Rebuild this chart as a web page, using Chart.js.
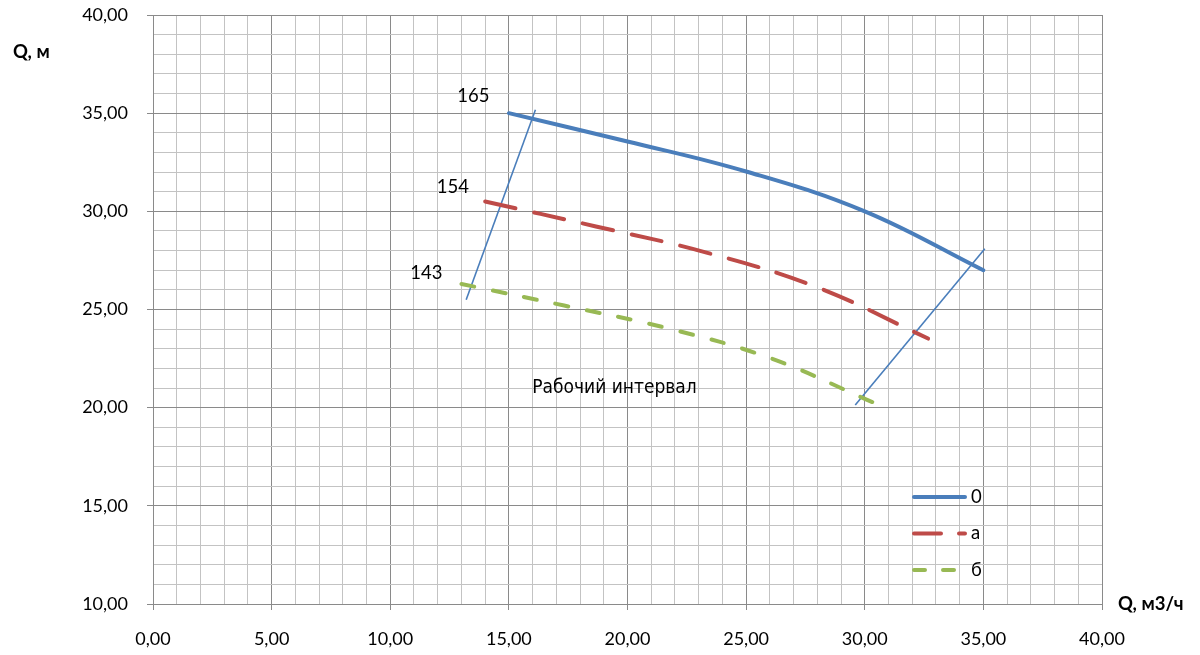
<!DOCTYPE html>
<html><head><meta charset="utf-8">
<script src="https://cdn.jsdelivr.net/npm/chart.js@4/dist/chart.umd.min.js"></script>
<style>html,body{margin:0;padding:0;background:#fff;}#wrap{position:relative;width:1200px;height:655px;}</style>
</head><body><div id="wrap"><canvas id="c" width="1200" height="655"></canvas></div>
<script>
// ---- data ----
const seriesNames = ['0', 'а', 'б'];
const curve0X = [15, 20, 25, 30, 35];
const curve0Y = [35, 33.56, 32.03, 30, 27];
const curveAX = [14, 18.67, 23.33, 28, 32.67];
const curveAY = [30.5, 29.23, 27.9, 26.13, 23.52];
const curveBX = [13, 17.33, 21.67, 26, 30.33];
const curveBY = [26.3, 25.2, 24.05, 22.53, 20.28];
const leftBoundX = [13.2, 16.12];
const leftBoundY = [25.5, 35.17];
const rightBoundX = [29.6, 35.06];
const rightBoundY = [20.14, 28.09];
const speedLabels = ['165', '154', '143'];
const speedLabelX = [13.5, 12.64, 11.52];
const speedLabelY = [35.88, 31.26, 26.88];
const zoneLabel = 'Рабочий интервал';
const zoneLabelX = 19.45;
const zoneLabelY = 20.99;
const xTitle = 'Q, м3/ч';
const yTitle = 'Q, м';
const xMin = 0, xMax = 40, yMin = 10, yMax = 40;

function pts(xs, ys) { return xs.map((x, i) => ({x: x, y: ys[i]})); }
function fmt(v) { return v.toFixed(2).replace('.', ','); }

const FONT = 'Lato, "Open Sans", sans-serif';
const BLUE = '#4a7ebb', RED = '#be4b48', GREEN = '#98b954';
const MAJOR = '#8a8a8a', MINOR = '#c3c3c3';

const extras = {
  id: 'extras',
  afterDraw(chart) {
    const ctx = chart.ctx, xs = chart.scales.x, ys = chart.scales.y, ca = chart.chartArea;
    ctx.save();
    ctx.fillStyle = '#000';
    ctx.textAlign = 'center';
    ctx.textBaseline = 'middle';
    ctx.font = '18.5px ' + FONT;
    speedLabels.forEach((t, i) => ctx.fillText(t, xs.getPixelForValue(speedLabelX[i]), ys.getPixelForValue(speedLabelY[i])));
    ctx.font = '19px "DejaVu Sans Condensed", "DejaVu Sans", sans-serif';
    ctx.fillText(zoneLabel, xs.getPixelForValue(zoneLabelX), ys.getPixelForValue(zoneLabelY));
    // axis titles
    ctx.font = 'bold 18.5px ' + FONT;
    ctx.textAlign = 'left';
    ctx.fillText(yTitle, 13, 52);
    ctx.fillText(xTitle, ca.right + 16, ca.bottom);
    // legend
    const items = [
      {c: BLUE, d: []},
      {c: RED, d: [27, 18]},
      {c: GREEN, d: [11, 18]}
    ];
    const lx = ca.right - 190, ly0 = ca.bottom - 107, step = 36.5;
    items.forEach((it, i) => {
      const y = ly0 + i * step;
      ctx.beginPath();
      ctx.strokeStyle = it.c;
      ctx.lineWidth = 4;
      ctx.lineCap = 'round';
      ctx.setLineDash(it.d);
      ctx.moveTo(lx + 2, y);
      ctx.lineTo(lx + 53, y);
      ctx.stroke();
      ctx.setLineDash([]);
      ctx.fillStyle = '#000';
      ctx.font = '18.5px ' + FONT;
      ctx.textAlign = 'left';
      ctx.fillText(seriesNames[i], lx + 59, y);
    });
    ctx.restore();
  }
};

function gridOpts() {
  return {
    color: c => (Math.round(c.tick.value) % 5 === 0 ? MAJOR : MINOR),
    tickColor: c => (Math.round(c.tick.value) % 5 === 0 ? MAJOR : 'rgba(0,0,0,0)'),
    lineWidth: 1,
    tickLength: 6,
    drawTicks: true
  };
}

new Chart(document.getElementById('c'), {
  type: 'scatter',
  data: {
    datasets: [
      {label: seriesNames[0], data: pts(curve0X, curve0Y), showLine: true, borderColor: BLUE, borderWidth: 4, tension: 0.4, pointRadius: 0, borderCapStyle: 'round'},
      {label: seriesNames[1], data: pts(curveAX, curveAY), showLine: true, borderColor: RED, borderWidth: 4, tension: 0.4, pointRadius: 0, borderDash: [31, 19], borderCapStyle: 'round'},
      {label: seriesNames[2], data: pts(curveBX, curveBY), showLine: true, borderColor: GREEN, borderWidth: 4, tension: 0.4, pointRadius: 0, borderDash: [13, 19], borderCapStyle: 'round'},
      {label: 'left', data: pts(leftBoundX, leftBoundY), showLine: true, borderColor: BLUE, borderWidth: 1.6, pointRadius: 0},
      {label: 'right', data: pts(rightBoundX, rightBoundY), showLine: true, borderColor: BLUE, borderWidth: 1.6, pointRadius: 0}
    ]
  },
  options: {
    responsive: false,
    animation: false,
    layout: {padding: {top: 15, right: 98, left: 0, bottom: 0}},
    plugins: {legend: {display: false}, tooltip: {enabled: false}},
    scales: {
      x: {
        type: 'linear', min: xMin, max: xMax,
        afterFit: s => { s.height = 51; s.paddingLeft = 0; s.paddingRight = 0; },
        ticks: {stepSize: 1, autoSkip: false, maxRotation: 0, color: '#000', padding: 18,
          font: {family: FONT, size: 18}, callback: v => (Math.round(v) % 5 === 0 ? fmt(v) : '')},
        grid: gridOpts(),
        border: {color: MAJOR, width: 1}
      },
      y: {
        type: 'linear', min: yMin, max: yMax,
        afterFit: s => { s.width = 153; s.paddingTop = 0; s.paddingBottom = 0; },
        ticks: {stepSize: 1, autoSkip: false, color: '#000', padding: 19,
          font: {family: FONT, size: 18}, callback: v => (Math.round(v) % 5 === 0 ? fmt(v) : '')},
        grid: gridOpts(),
        border: {color: MAJOR, width: 1}
      }
    }
  },
  plugins: [extras]
});
</script></body></html>
